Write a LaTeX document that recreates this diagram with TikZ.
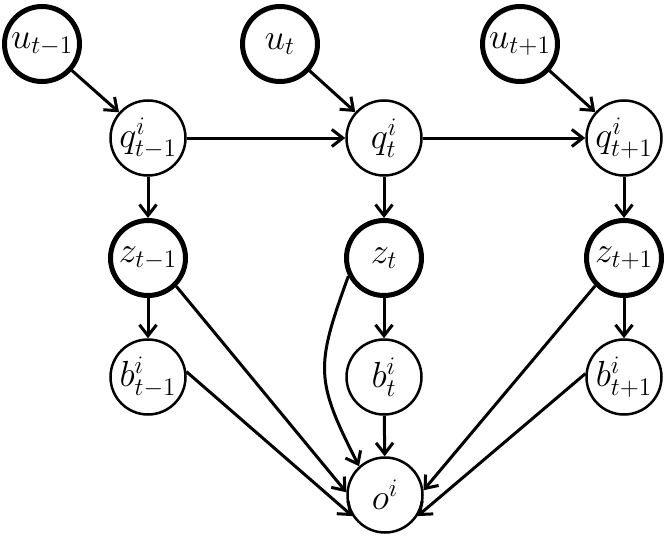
\documentclass[tikz,border=0pt]{standalone}
\usepackage{graphicx}
\usetikzlibrary{arrows.meta}
\newcommand{\lbl}[1]{\scalebox{1.75}{$#1$}}
\begin{document}
\begin{tikzpicture}[x=1pt,y=-1pt,
  var/.style={circle, draw, line width=2.5pt, minimum size=75pt, inner sep=0pt, fill=white,
    font=\huge},
  obs/.style={var, line width=5pt},
  arr/.style={line width=3pt, -{Straight Barb[length=11pt,width=17pt,line width=3pt]}}]
\useasboundingbox (0,0) rectangle (672,538);
% nodes
\node[obs] (u1) at (42,44) {\lbl{u_{t-1}}};
\node[obs] (u2) at (280,44) {\lbl{u_{t}}};
\node[obs] (u3) at (520,44) {\lbl{u_{t+1}}};
\node[var] (q1) at (148,138) {\lbl{q^{i}_{t-1}}};
\node[var] (q2) at (384,138) {\lbl{q^{i}_{t}}};
\node[var] (q3) at (624,138) {\lbl{q^{i}_{t+1}}};
\node[obs] (z1) at (148,258) {\lbl{z_{t-1}}};
\node[obs] (z2) at (384,258) {\lbl{z_{t}}};
\node[obs] (z3) at (624,258) {\lbl{z_{t+1}}};
\node[var] (b1) at (148,377) {\lbl{b^{i}_{t-1}}};
\node[var] (b2) at (384,377) {\lbl{b^{i}_{t}}};
\node[var] (b3) at (624,377) {\lbl{b^{i}_{t+1}}};
\node[var] (o) at (385,495) {\lbl{o^{i}}};
% edges
\draw[arr] (u1) -- (q1);
\draw[arr] (u2) -- (q2);
\draw[arr] (u3) -- (q3);
\draw[arr] (q1) -- (q2);
\draw[arr] (q2) -- (q3);
\draw[arr] (q1) -- (z1);
\draw[arr] (q2) -- (z2);
\draw[arr] (q3) -- (z3);
\draw[arr] (z1) -- (b1);
\draw[arr] (z2) -- (b2);
\draw[arr] (z3) -- (b3);
\draw[arr] (z1.-45) -- (o.176);
\draw[arr] (b1.8) -- (o.213);
\draw[arr] (z2.207) to[out=250,in=117,looseness=1.3] (o.132);
\draw[arr] (b2) -- (o);
\draw[arr] (z3.224) -- (o.7);
\draw[arr] (b3.175) -- (o.-33);
\end{tikzpicture}
\end{document}
